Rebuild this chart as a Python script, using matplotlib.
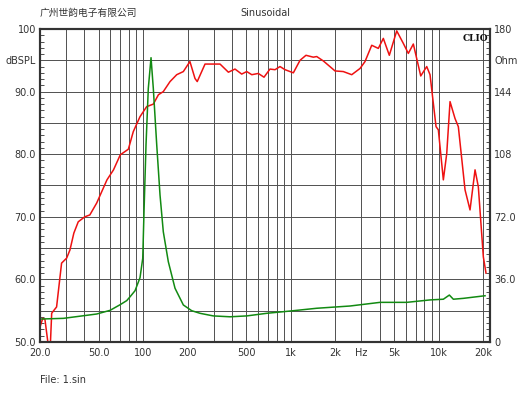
import matplotlib
matplotlib.use("Agg")
import matplotlib.pyplot as plt
from matplotlib.ticker import FixedLocator, NullFormatter

# SPL response (left axis, dB)
spl_freq = [20, 20.9, 21.6, 22.6, 23.4, 24.0, 25.9, 28.0, 30.3, 31.9, 33.9, 36.3,
            40.2, 43.5, 48.4, 56.8, 62.9, 69.9, 79.3, 85.6, 95.1, 105.5, 117,
            126.7, 136.7, 151.8, 168.5, 186.8, 207, 224, 232, 262, 331, 377, 418,
            464, 502, 543, 601, 657, 721, 780, 843, 912, 1038, 1152, 1264, 1417,
            1494, 1656, 1988, 2262, 2579, 2936, 3172, 3522, 3904, 4220, 4634,
            5200, 5764, 6232, 6738, 7562, 8302, 8740, 9598, 9950, 10756, 11340,
            11940, 12904, 13588, 15086, 16304, 17630, 18556, 20064, 20920]
spl_db = [52.4, 53.8, 53.6, 50.0, 48.5, 54.6, 55.6, 62.6, 63.4, 64.7, 67.4, 69.2,
          70.0, 70.3, 72.2, 75.9, 77.5, 79.9, 80.8, 83.6, 86.0, 87.6, 88.0,
          89.5, 90.0, 91.6, 92.7, 93.2, 94.8, 92.1, 91.6, 94.4, 94.4, 93.1, 93.6,
          92.8, 93.2, 92.7, 92.9, 92.3, 93.6, 93.5, 94.0, 93.5, 93.0, 95.0, 95.8, 95.5,
          95.6, 94.9, 93.3, 93.2, 92.7, 93.7, 94.8, 97.4, 96.9, 98.5, 95.8,
          99.7, 97.7, 96.1, 97.6, 92.5, 94.0, 92.7, 84.4, 83.9, 75.9, 80.1,
          88.4, 85.7, 84.4, 74.3, 71.1, 77.5, 74.8, 63.6, 61.0]

# impedance (right axis, Ohm)
imp_freq = [20, 28.8, 48.4, 59.6, 69.9, 77.3, 81.4, 88.0, 95.1, 99.2, 101.2, 104.4,
            108.2, 112.9, 117.0, 123.4, 129.9, 136.7, 147.8, 164.1, 186.8, 212.8,
            242.4, 298, 387, 502, 685, 985, 1494, 2512, 4009, 6078, 8740, 10756,
            11812, 12570, 14690, 20600]
imp_ohm = [13.2, 13.6, 16.1, 18.2, 21.5, 23.8, 26.0, 29.5, 37.0, 48.1, 74.9, 113.3,
           145.8, 163.5, 145.8, 113.3, 84.5, 63.4, 46.2, 30.9, 21.3, 18.0,
           16.5, 15.0, 14.5, 15.0, 16.5, 17.8, 19.4, 20.7, 22.8, 22.8, 24.2, 24.6,
           27.0, 24.6, 25.1, 26.6]

grid_freqs = [m * d for d in (10, 100, 1000, 10000) for m in range(1, 10)
              if 20 <= m * d <= 20000]
x_labels = {20: "20.0", 50: "50.0", 100: "100", 200: "200", 500: "500",
            1000: "1k", 2000: "2k", 3000: "Hz", 5000: "5k", 10000: "10k",
            20000: "20k"}
left_labels = ["50.0", "", "60.0", "", "70.0", "", "80.0", "", "90.0", "dBSPL", "100"]
right_labels = ["0", "", "36.0", "", "72.0", "", "108", "", "144", "Ohm", "180"]

txt = "#333333"
grid_c = "#505050"

fig = plt.figure(figsize=(5.3, 3.98), dpi=100)
ax = fig.add_axes([40 / 530, 1 - 342 / 398, 450 / 530, 313 / 398])
ax.set_xscale("log")
ax.set_xlim(20, 22260)
ax.set_ylim(50, 100)

ax.xaxis.set_major_locator(FixedLocator(grid_freqs))
ax.set_xticklabels([x_labels.get(f, "") for f in grid_freqs])
ax.xaxis.set_minor_formatter(NullFormatter())
ax.tick_params(axis="x", which="both", length=0, pad=4, labelsize=7, colors=txt)

ax.set_yticks(range(50, 101, 5))
ax.set_yticklabels(left_labels)
ax.yaxis.set_minor_locator(FixedLocator(range(50, 101)))
ax.tick_params(axis="y", which="major", length=0, pad=3, labelsize=7, colors=txt)
ax.tick_params(axis="y", which="minor", length=3, direction="in", color=txt)

ax.grid(True, which="major", color=grid_c, linewidth=0.7)
ax.set_axisbelow(True)

ax.plot(spl_freq, spl_db, color="#ee1111", linewidth=1.1)

ax2 = ax.twinx()
ax2.set_ylim(0, 180)
ax2.set_yticks([i * 18 for i in range(11)])
ax2.set_yticklabels(right_labels)
ax2.yaxis.set_minor_locator(FixedLocator([i * 3.6 for i in range(51)]))
ax2.tick_params(axis="y", which="major", length=0, pad=3, labelsize=7, colors=txt)
ax2.tick_params(axis="y", which="minor", length=3, direction="in", color=txt)
ax2.plot(imp_freq, imp_ohm, color="#128a12", linewidth=1.1)

for a in (ax, ax2):
    for s in a.spines.values():
        s.set_color("#333333")
        s.set_linewidth(1.5)

fig.text(40 / 530, 1 - 13 / 398, "广州世韵电子有限公司", fontsize=7, color=txt,
         family=["Noto Sans CJK SC", "DejaVu Sans"], va="center", ha="left")
fig.text(0.5, 1 - 13 / 398, "Sinusoidal", fontsize=7, color=txt, va="center", ha="center")
ax2.text(0.997, 0.985, "CLIO", transform=ax2.transAxes, fontsize=6.5, color="#111111",
         family="DejaVu Serif", fontweight="bold", ha="right", va="top")
fig.text(40 / 530, 1 - 380 / 398, "File: 1.sin", fontsize=7, color=txt, va="center", ha="left")

fig.savefig("out.png", dpi=100)
